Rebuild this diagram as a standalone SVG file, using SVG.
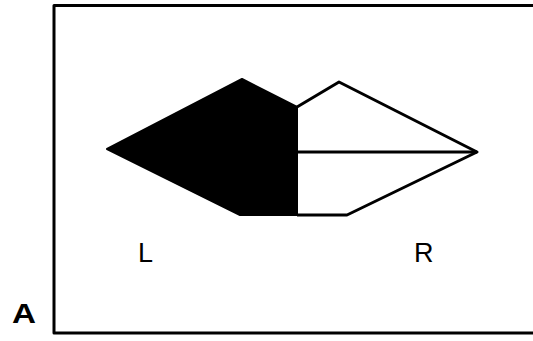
<svg xmlns="http://www.w3.org/2000/svg" width="533" height="341" viewBox="0 0 533 341">
<style>
.lbl{font-family:"Liberation Sans",Arial,sans-serif;font-size:27px;fill:#000}
.ln{stroke:#000;stroke-width:3;fill:none;stroke-linejoin:round}
</style>
<rect width="533" height="341" fill="#fff"/>
<g id="frame"><rect x="54" y="5.5" width="490" height="327.5" class="ln"/></g>
<g id="shape">
<polygon points="107,149 242,79 297,107 297,215 240,215" fill="#000" stroke="#000" stroke-width="2" stroke-linejoin="round"/>
<polyline points="297,107 339,82 477,152 347,215 297,215" class="ln" stroke-width="2.5"/>
</g>
<g id="connectors"><line x1="297" y1="152" x2="477" y2="152" class="ln" stroke-width="2.5"/></g>
<g id="labels">
<text class="lbl" x="138" y="262">L</text>
<text class="lbl" x="414" y="262">R</text>
<text class="lbl" x="12" y="323" font-weight="bold" font-size="25" textLength="24" lengthAdjust="spacingAndGlyphs">A</text>
</g>
</svg>
